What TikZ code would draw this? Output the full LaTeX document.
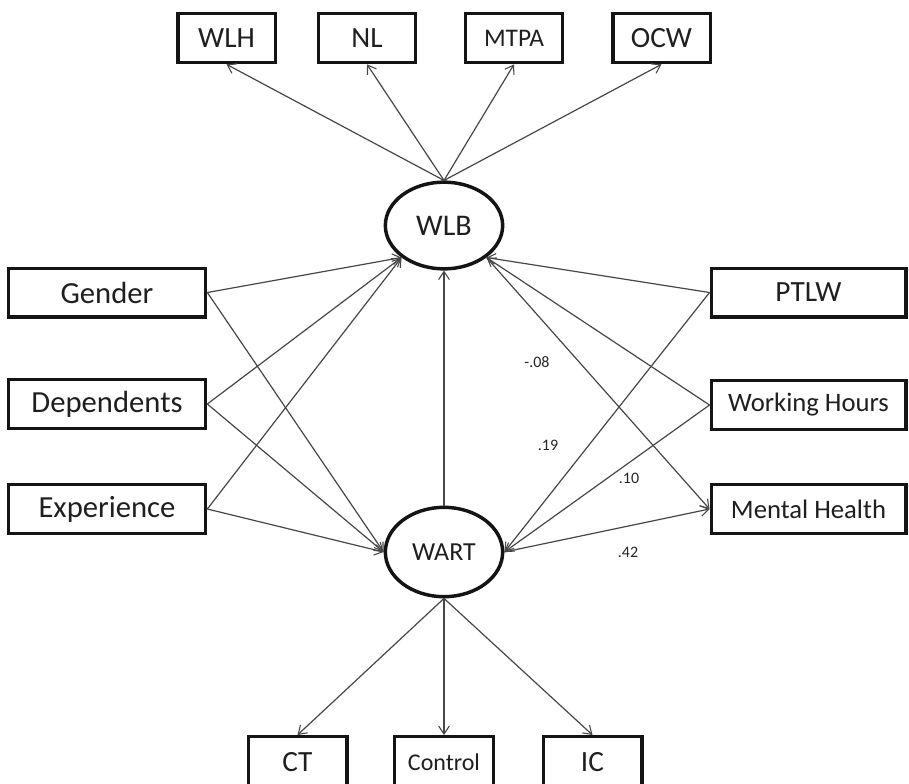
\documentclass[tikz,border=0pt]{standalone}
\usepackage{fontspec}
\setmainfont{Carlito}
\usetikzlibrary{arrows.meta,shapes.geometric}
\begin{document}
\begin{tikzpicture}[x=0.75pt,y=-0.75pt,
  box/.style={draw=black!92, line width=2.5pt, rectangle, inner sep=0pt, text=black!88},
  topbox/.style={box, minimum width=73pt, minimum height=37pt, font=\fontsize{22}{24}\selectfont},
  sidebox/.style={box, minimum width=148pt, minimum height=36.5pt},
  lat/.style={draw=black!92, line width=2.6pt, ellipse, minimum width=88pt, minimum height=65pt, inner sep=0pt, text=black!88},
  conn/.style={draw=black!72, line width=0.9pt, -{Straight Barb[length=6pt,width=8pt,line width=0.8pt]}},
  coef/.style={font=\fontsize{12}{13}\selectfont, text=black!85, inner sep=0pt}
]
\clip (0,0) rectangle (909,783);
\fill[white] (0,0) rectangle (909,783);

% top indicators
\node[topbox] (wlh) at (226.5,38) {WLH};
\node[topbox] (nl) at (367,38) {NL};
\node[topbox, font=\fontsize{19}{21}\selectfont] (mtpa) at (514,38) {MTPA};
\node[topbox] (ocw) at (661.5,38) {OCW};

% latent variables
\node[lat, font=\fontsize{22.5}{24}\selectfont] (wlb) at (444,225.5) {WLB};
\node[lat, minimum height=67pt, font=\fontsize{19.5}{21}\selectfont] (wart) at (444,552) {WART};

% left predictors
\node[sidebox, font=\fontsize{23}{25}\selectfont] (gender) at (107,292.5) {Gender};
\node[sidebox, font=\fontsize{23}{25}\selectfont] (dep) at (107,404) {Dependents};
\node[sidebox, font=\fontsize{23}{25}\selectfont] (exp) at (107,509) {Experience};

% right predictors
\node[sidebox, minimum width=146pt, font=\fontsize{22}{24}\selectfont] (ptlw) at (808.5,292.5) {PTLW};
\node[sidebox, minimum width=146pt, font=\fontsize{20}{22}\selectfont] (wh) at (808.5,405) {Working Hours};
\node[sidebox, minimum width=146pt, font=\fontsize{20}{22}\selectfont] (mh) at (808.5,509) {Mental Health};

% bottom indicators
\node[box, minimum width=74pt, minimum height=45pt, anchor=north, font=\fontsize{22}{24}\selectfont] (ct) at (297.5,735) {\raisebox{7pt}{CT}};
\node[box, minimum width=74pt, minimum height=45pt, anchor=north, font=\fontsize{18}{20}\selectfont] (control) at (444,735) {\raisebox{7pt}{Control}};
\node[box, minimum width=74pt, minimum height=45pt, anchor=north, font=\fontsize{22}{24}\selectfont] (ic) at (592.5,735) {\raisebox{7pt}{IC}};

% WLB -> indicators
\draw[conn] (wlb.north) -- (wlh.south);
\draw[conn] (wlb.north) -- (nl.south);
\draw[conn] (wlb.north) -- (mtpa.south);
\draw[conn] (wlb.north) -- (ocw.south);

% WART -> indicators
\draw[conn] (wart.south) -- (ct.north);
\draw[conn] (wart.south) -- (control.north);
\draw[conn] (wart.south) -- (ic.north);

% WART -> WLB
\draw[conn] (wart.north) -- (wlb.south);

% left predictors
\foreach \n in {gender,dep,exp}{
  \draw[conn] (\n.east) -- (wlb.217);
  \draw[conn] (\n.east) -- (wart.west);
}

% right predictors
\foreach \n in {ptlw,wh}{
  \draw[conn] (\n.west) -- (wlb.323);
  \draw[conn] (\n.west) -- (wart.east);
}
\draw[conn] (wlb.323) -- (mh.west);
\draw[conn] (wart.east) -- (mh.west);

% coefficients
\node[coef] (c1) at (537,362) {-.08};
\node[coef] (c2) at (548,445) {.19};
\node[coef] (c3) at (629,478) {.10};
\node[coef] (c4) at (628,552) {.42};
\end{tikzpicture}
\end{document}
